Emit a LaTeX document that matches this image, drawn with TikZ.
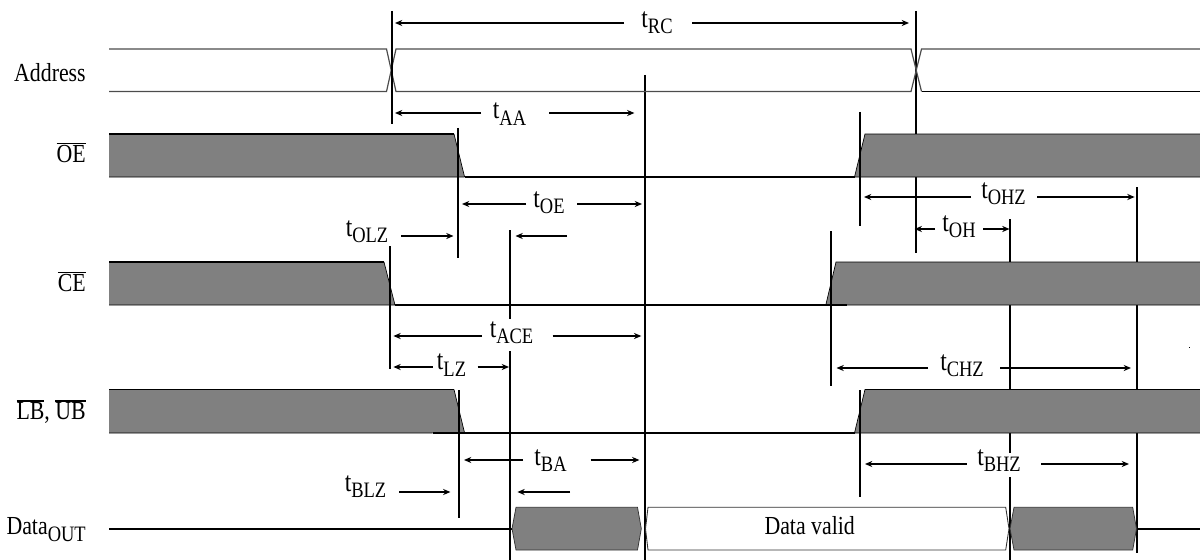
\documentclass[tikz,border=0pt]{standalone}
\usepackage{fontspec}
\setmainfont[FakeStretch=0.84]{Liberation Serif}
\usetikzlibrary{arrows.meta}
\definecolor{wavegray}{HTML}{808080}
\newcommand{\ovl}[1]{\leavevmode\vbox{\hrule height 0.9pt \kern 0.6pt\hbox{#1}}}
\newcommand{\subtxt}[1]{\raisebox{-0.24em}{\fontsize{16.5}{16.5}\selectfont #1}}
\newcommand{\tsub}[1]{{\fontsize{21}{21}\selectfont t}\subtxt{#1}}
\tikzset{
  x=0.75pt,y=-0.75pt,
  txt/.style={inner sep=0pt,font=\fontsize{19.5}{19.5}\selectfont},
  sig/.style={anchor=east,inner sep=0pt,font=\fontsize{19.5}{19.5}\selectfont},
  tick/.style={line width=1.2pt,black},
  thick wave/.style={line width=1.3pt,black},
  thin wave/.style={line width=0.5pt,black},
  grayedge/.style={line width=0.55pt,draw=black!80,fill=wavegray},
  dim/.style={line width=1.25pt,-{Stealth[length=5.5pt,width=4.6pt]}},
  addr/.style={line width=0.9pt,draw=black!70}
}
\begin{document}
\begin{tikzpicture}
\useasboundingbox (0,0) rectangle (1200,560);
% long verticals that pass behind the gray bands
\draw[tick] (915.7,11) -- (915.7,253);
\draw[tick] (1010,219) -- (1010,453) (1010,477) -- (1010,560);
\draw[tick] (1137,187) -- (1137,553);
\draw[tick] (644.8,75) -- (644.8,560);
\draw[tick] (510,230) -- (510,319) (510,351) -- (510,560);
% Address
\draw[addr] (109,49) -- (386.5,49) -- (396,91.5) -- (911,91.5) -- (921.5,49) -- (1200,49);
\draw[addr] (109,91.5) -- (386.5,91.5) -- (396,49) -- (911,49) -- (921.5,91.5);
\draw[thick wave] (921.5,91.5) -- (1200,91.5);
% OE
\fill[wavegray] (109,134) -- (454,134) -- (464.6,177) -- (109,177) -- cycle;
\fill[wavegray] (1200,134) -- (865,134) -- (854.5,177) -- (1200,177) -- cycle;
\draw[thick wave] (109,134) -- (454,134);
\draw[thin wave] (454,134) -- (464.6,177) (109,177) -- (464.6,177);
\draw[thick wave] (464.6,177) -- (854.5,177);
\draw[thin wave] (854.5,177) -- (865,134) -- (1200,134) (854.5,177) -- (1200,177);
% CE
\fill[wavegray] (109,262) -- (384,262) -- (395,305) -- (109,305) -- cycle;
\fill[wavegray] (1200,262) -- (836,262) -- (825.8,305) -- (1200,305) -- cycle;
\draw[thick wave] (109,262) -- (384,262);
\draw[thin wave] (384,262) -- (395,305) (109,305) -- (395,305);
\draw[thick wave] (395,305) -- (847,305);
\draw[thin wave] (825.8,305) -- (836,262) -- (1200,262) (847,305) -- (1200,305);
% LB UB
\fill[wavegray] (109,389.5) -- (454,389.5) -- (464.6,433) -- (109,433) -- cycle;
\fill[wavegray] (1200,389.5) -- (865,389.5) -- (854.5,433) -- (1200,433) -- cycle;
\draw[thick wave] (109,389.5) -- (454,389.5);
\draw[thin wave] (454,389.5) -- (464.6,433) (109,433) -- (432.5,433);
\draw[thick wave] (432.5,433) -- (854.5,433);
\draw[thin wave] (854.5,433) -- (865,389.5) -- (1200,389.5) (854.5,433) -- (1200,433);
% verticals on top of the bands
\draw[tick] (392,11) -- (392,124.5);
\draw[tick] (458,128) -- (458,258);
\draw[tick] (860,112) -- (860,225.7);
\draw[tick] (390,246) -- (390,369);
\draw[tick] (830.8,231) -- (830.8,385.7);
\draw[tick] (459,390) -- (459,517.7);
\draw[tick] (860,390) -- (860,496.7);
% Data
\draw[thick wave] (109,528.7) -- (512,528.7);
\draw[thick wave] (1137,528.7) -- (1200,528.7);
\draw[grayedge] (512,528.7) -- (516,507.3) -- (637.5,507.3) -- (641.3,528.7) -- (637.5,550) -- (516,550) -- cycle;
\draw[line width=0.65pt,draw=black!80,fill=white] (645.5,528.7) -- (648,507.3) -- (1005.7,507.3) -- (1009,528.7) -- (1005.7,550) -- (648,550) -- cycle;
\draw[grayedge] (1010,528.7) -- (1014,507.3) -- (1132.7,507.3) -- (1136.5,528.7) -- (1132.7,550) -- (1014,550) -- cycle;
\node[txt] (valid) at (809.7,526) {Data valid};
% signal names
\node[sig] (sAddr) at (86,73) {Address};
\node[sig] (sOE) at (86,153) {\ovl{OE}};
\node[sig] (sCE) at (86,282) {\ovl{CE}};
\node[sig] (sLB) at (86,412) {\ovl{LB}, \ovl{UB}};
\node[sig] (sData) at (86,529.5) {Data\subtxt{OUT}};
% timing labels
\node[txt] (tRC) at (657,23) {\tsub{RC}};
\node[txt] (tAA) at (509.5,114) {\tsub{AA}};
\node[txt] (tOE) at (549,203) {\tsub{OE}};
\node[txt] (tOLZ) at (367,232) {\tsub{OLZ}};
\node[txt] (tOHZ) at (1003.5,194) {\tsub{OHZ}};
\node[txt] (tOH) at (959,227) {\tsub{OH}};
\node[txt] (tACE) at (511.5,333) {\tsub{ACE}};
\node[txt] (tLZ) at (451.5,365) {\tsub{LZ}};
\node[txt] (tCHZ) at (962,365.5) {\tsub{CHZ}};
\node[txt] (tBA) at (550.5,461) {\tsub{BA}};
\node[txt] (tBHZ) at (999,461) {\tsub{BHZ}};
\node[txt] (tBLZ) at (365.5,487) {\tsub{BLZ}};
% dimension arrows
\draw[dim] (624,23) -- (395,23);
\draw[dim] (692,23) -- (909,23);
\draw[dim] (481,113) -- (395,113);
\draw[dim] (549,113) -- (634.4,113);
\draw[dim] (526,204) -- (462,204);
\draw[dim] (577,204) -- (642,204);
\draw[dim] (401,236) -- (453.5,236);
\draw[dim] (567,236) -- (515.5,236);
\draw[dim] (971,197) -- (864,197);
\draw[dim] (1037,197) -- (1134.6,197);
\draw[dim] (935,229) -- (914.6,229);
\draw[dim] (983,229) -- (1009.5,229);
\draw[dim] (482,336) -- (393.4,336);
\draw[dim] (552.6,336) -- (641.3,336);
\draw[dim] (432.5,367) -- (393.4,367);
\draw[dim] (477.6,367) -- (509,367);
\draw[dim] (928,368) -- (836.5,368);
\draw[dim] (1000,368) -- (1131,368);
\draw[dim] (523,460) -- (464,460);
\draw[dim] (590.5,460) -- (639.4,460);
\draw[dim] (966.6,464) -- (865,464);
\draw[dim] (1041,464) -- (1129,464);
\draw[dim] (399,492) -- (450.4,492);
\draw[dim] (570,492) -- (517.4,492);
\fill (1188.5,347) rectangle (1189.5,348);
\end{tikzpicture}
\end{document}
